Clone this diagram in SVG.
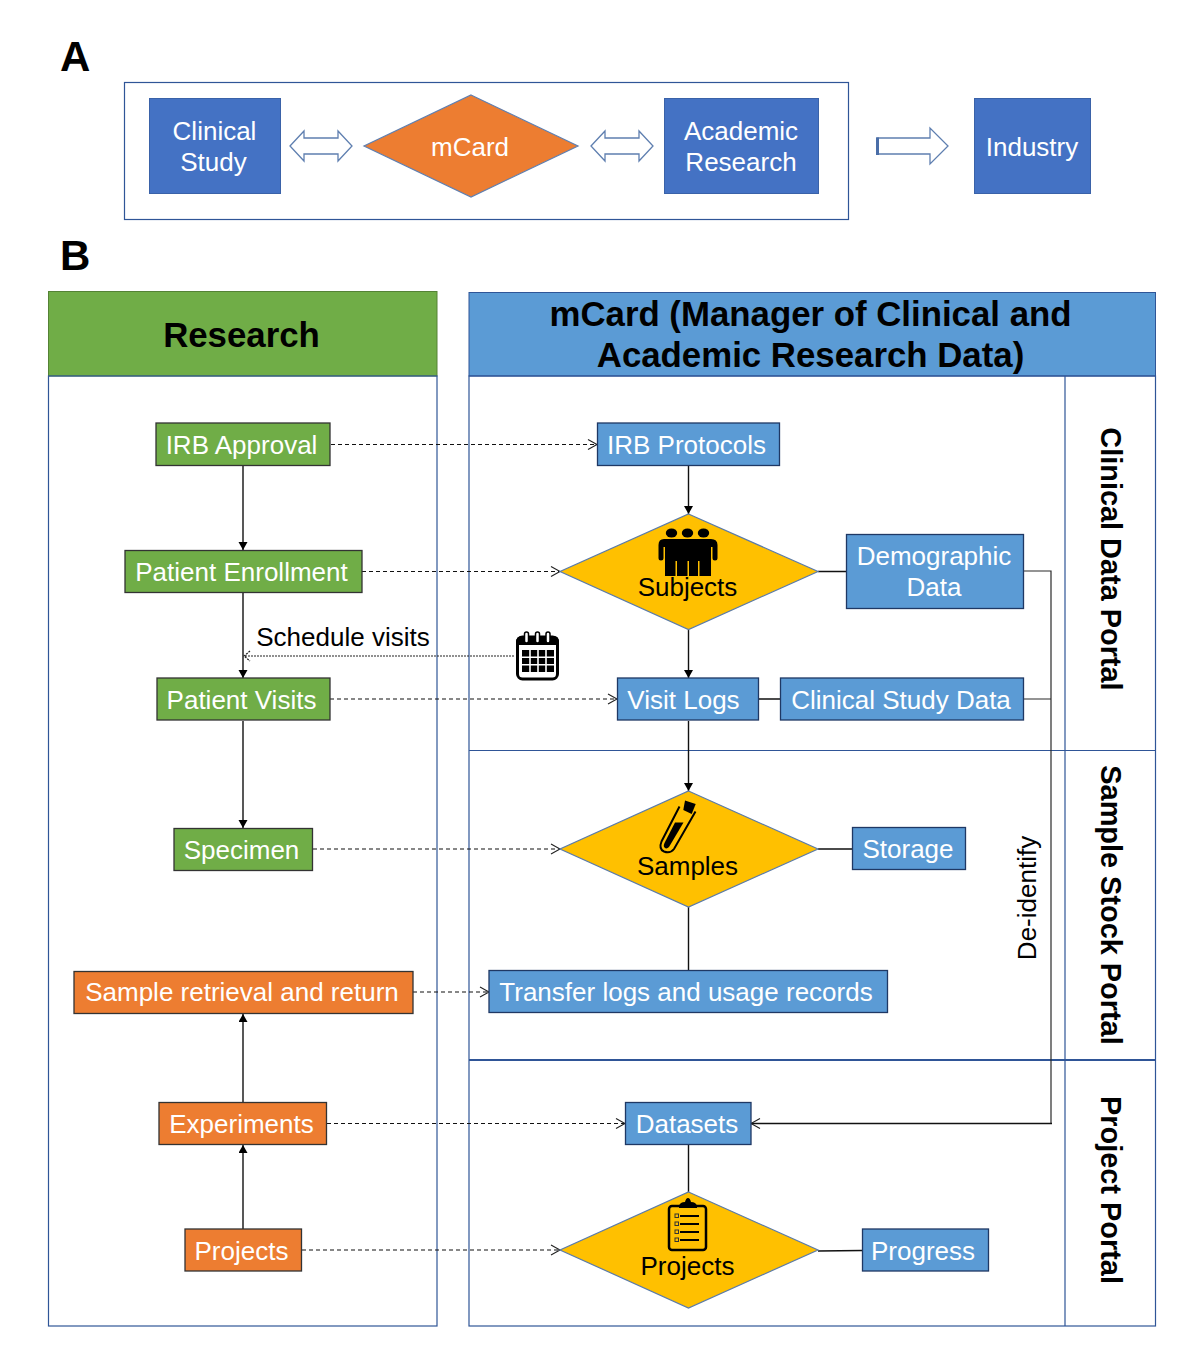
<svg xmlns="http://www.w3.org/2000/svg" width="1200" height="1357" viewBox="0 0 1200 1357">
<style>
text{font-family:"Liberation Sans",Arial,sans-serif;text-anchor:middle}
.w{fill:#fff;font-size:26px}
.k{fill:#000;font-size:26px}
.l{fill:#000;font-size:42px;font-weight:bold;text-anchor:start}
.h{fill:#000;font-size:34.800px;font-weight:bold}
.p{fill:#000;font-size:28.900px;font-weight:bold}
.frame{fill:none;stroke:#2f5597;stroke-width:1.2}
.g{fill:#70ad47;stroke:#333;stroke-width:1.3}
.o{fill:#ed7d31;stroke:#333;stroke-width:1.3}
.b{fill:#5b9bd5;stroke:#1f3864;stroke-width:1.3}
.d{fill:#4472c4;stroke:#3a62a8;stroke-width:1}
.y{fill:#ffc000;stroke:#5b7ba8;stroke-width:1.2}
.arr{fill:#fff;stroke:#5f7fb0;stroke-width:1.3}
.s{fill:none;stroke:#111;stroke-width:1.4}
.sa{fill:none;stroke:#111;stroke-width:1.4;marker-end:url(#tri)}
.da{fill:none;stroke:#111;stroke-width:1.2;stroke-dasharray:4 3;marker-end:url(#open)}
.ico{fill:#000}
</style>
<defs>
<marker id="tri" markerUnits="userSpaceOnUse" markerWidth="10" markerHeight="10" refX="8" refY="4.5" orient="auto"><path d="M0 0L8 4.5L0 9Z" fill="#000"/></marker>
<marker id="open" markerUnits="userSpaceOnUse" markerWidth="12" markerHeight="14" refX="10" refY="6" orient="auto"><path d="M1 1L10 6L1 11" fill="none" stroke="#222" stroke-width="1.1"/></marker>
</defs>

<text class="l" x="60" y="71">A</text>
<text class="l" x="60" y="270">B</text>

<g id="frames">
<rect class="frame" x="124.500" y="82.500" width="724" height="137"/>
<rect id="research-head" x="48.500" y="291.500" width="388.500" height="84.500" fill="#70ad47" stroke="#548235" stroke-width="1"/>
<rect class="frame" x="48.500" y="376" width="388.500" height="950"/>
<rect id="mcard-head" x="469" y="292.500" width="686.500" height="83.500" fill="#5b9bd5" stroke="#2f5597" stroke-width="1"/>
<rect class="frame" x="469" y="376" width="686.500" height="950"/>
<path class="frame" d="M1065 376V1326M469 750.500H1155.500"/>
<path d="M469 1060H1155.500" fill="none" stroke="#2f5597" stroke-width="2"/>
</g>

<g id="connectors">
<path class="sa" d="M243 466V550"/>
<path class="sa" d="M243 593V678"/>
<path class="sa" d="M243 721V828"/>
<path class="sa" d="M243 1102V1014"/>
<path class="sa" d="M243 1229V1145"/>
<path class="da" d="M331 444.500H597"/>
<path class="da" d="M362 571.500H560"/>
<path d="M514 656H244M250 651L244 656L250 661" fill="none" stroke="#222" stroke-width="1.200" stroke-dasharray="2 1"/>
<path class="da" d="M330 699H617"/>
<path class="da" d="M313 849H560"/>
<path class="da" d="M413 992H489"/>
<path class="da" d="M327 1123.500H625"/>
<path class="da" d="M302 1250H560"/>
<path class="sa" d="M688.500 466V514"/>
<path class="sa" d="M688.500 630V678"/>
<path class="sa" d="M688.500 721V791"/>
<path class="s" d="M688.500 907V970M688.500 1145V1192M818 571.500H846M759 699H780M818 849H852M818 1251L862 1250.500"/>
<path d="M1024 571H1051V1123.500M1024 699H1051" fill="none" stroke="#2a2a2a" stroke-width="1.200"/>
<path d="M1052 1123.500H751" fill="none" stroke="#111" stroke-width="1.4" marker-end="url(#open)"/>
</g>

<g id="clinical-study"><rect class="d" x="149.500" y="98.500" width="131" height="95"/><text class="w" x="214.500" y="140">Clinical</text><text class="w" x="213.500" y="171">Study</text></g>
<g id="mcard-a"><path d="M471 95L578 146L471 197L364 146Z" fill="#ed7d31" stroke="#5f7fb0" stroke-width="1.200"/><text class="w" x="470" y="156">mCard</text></g>
<g id="academic-research"><rect class="d" x="664.500" y="98.500" width="154" height="95"/><text class="w" x="741" y="140">Academic</text><text class="w" x="741" y="171">Research</text></g>
<g id="industry"><rect class="d" x="974.500" y="98.500" width="116" height="95"/><text class="w" x="1032" y="156">Industry</text></g>
<path id="arrow-1" class="arr" d="M290 146L304 131V138H338V131L352 146L338 161V154H304V161Z"/>
<path id="arrow-2" class="arr" d="M591 146L605 131V138H639V131L653 146L639 161V154H605V161Z"/>
<path id="arrow-3" class="arr" d="M877 138H930V128L948 146L930 164V154H877Z"/>
<path d="M877.500 137.500V155" stroke="#4a6ea8" stroke-width="3" fill="none"/>

<text class="h" x="241.500" y="347">Research</text>
<text class="h" x="810.500" y="326">mCard (Manager of Clinical and</text>
<text class="h" x="810.500" y="367">Academic Research Data)</text>
<text class="p" transform="translate(1101 559) rotate(90)">Clinical Data Portal</text>
<text class="p" transform="translate(1101 905) rotate(90)">Sample Stock Portal</text>
<text class="p" transform="translate(1101 1190) rotate(90)">Project Portal</text>
<text class="k" transform="translate(1036 898) rotate(-90)">De-identify</text>
<text class="k" x="343" y="646">Schedule visits</text>

<g id="irb-approval"><rect class="g" x="156" y="423" width="174" height="42.500"/><text class="w" x="241.500" y="454">IRB Approval</text></g>
<g id="patient-enrollment"><rect class="g" x="125" y="550.500" width="237" height="42"/><text class="w" x="241.500" y="581">Patient Enrollment</text></g>
<g id="patient-visits"><rect class="g" x="157" y="678" width="173" height="42"/><text class="w" x="241.500" y="709">Patient Visits</text></g>
<g id="specimen"><rect class="g" x="174" y="828.500" width="138.500" height="42"/><text class="w" x="241.500" y="859">Specimen</text></g>
<g id="sample-retrieval"><rect class="o" x="74" y="971.500" width="339" height="42"/><text class="w" x="242" y="1001">Sample retrieval and return</text></g>
<g id="experiments"><rect class="o" x="159" y="1102.500" width="167.500" height="42"/><text class="w" x="241.500" y="1133">Experiments</text></g>
<g id="projects-left"><rect class="o" x="185" y="1229" width="116.500" height="42"/><text class="w" x="241.500" y="1260">Projects</text></g>

<g id="irb-protocols"><rect class="b" x="597.500" y="423" width="182" height="42.500"/><text class="w" x="686.500" y="454">IRB Protocols</text></g>
<g id="subjects"><path class="y" d="M688.500 514L818 571.500L688.500 629.500L560 571.500Z"/>
<g class="ico"><ellipse cx="671.500" cy="533" rx="5.700" ry="4.500"/><ellipse cx="687.500" cy="533" rx="5.700" ry="4.500"/><ellipse cx="703.500" cy="533" rx="5.700" ry="4.500"/><path d="M664 539H711Q717.500 539 717.500 545V558Q717.500 560.500 715 560.500Q712.500 560.500 712.500 558V547H711V576H699.500V561H698V576H689V561H687.500V576H677V561H675.500V576H665V547H663.500V558Q663.500 560.500 661 560.500Q658.500 560.500 658.500 558V545Q658.500 539 664 539Z"/></g>
<text class="k" x="687.500" y="596">Subjects</text></g>
<g id="demographic-data"><rect class="b" x="846.500" y="534.500" width="177" height="74"/><text class="w" x="934" y="565">Demographic</text><text class="w" x="934" y="596">Data</text></g>
<g id="calendar"><rect x="517.500" y="637" width="40" height="42" rx="5" fill="#fff" stroke="#000" stroke-width="3"/><path class="ico" d="M516 645V642Q516 636 522 636H554Q559 636 559 642V645Z"/><g fill="#fff" stroke="#000" stroke-width="1.500"><rect x="524.500" y="632" width="4" height="11" rx="2"/><rect x="535.500" y="632" width="4" height="11" rx="2"/><rect x="546" y="632" width="4" height="11" rx="2"/></g><g class="ico"><path d="M522 650h32v22h-32z"/></g><path d="M522 657.300h32M522 664.700h32M530 650v22M538 650v22M546 650v22" stroke="#fff" stroke-width="1.600" fill="none"/></g>
<g id="visit-logs"><rect class="b" x="617.500" y="678" width="141" height="42"/><text class="w" x="683.500" y="709">Visit Logs</text></g>
<g id="clinical-study-data"><rect class="b" x="780.500" y="678" width="243" height="42"/><text class="w" x="901" y="709">Clinical Study Data</text></g>
<g id="samples"><path class="y" d="M688.500 791L818 849L688.500 907L560 849Z"/>
<path d="M679.500 806.500L661.500 841.500Q658.500 849 664 851.500Q670 854 674 849L695.500 811.500" fill="none" stroke="#000" stroke-width="2"/><path class="ico" d="M675 822.500H683.500L669 847Q666.500 849.500 664.500 847.500Q663 846 664.500 843Z"/><path class="ico" d="M685 800.500L695.700 804L691.700 814L683.300 810Z"/>
<text class="k" x="687.500" y="875">Samples</text></g>
<g id="storage"><rect class="b" x="852.500" y="827.500" width="113" height="42"/><text class="w" x="908" y="858">Storage</text></g>
<g id="transfer-logs"><rect class="b" x="489" y="970.500" width="398.500" height="42"/><text class="w" x="686" y="1001">Transfer logs and usage records</text></g>
<g id="datasets"><rect class="b" x="625.500" y="1102.500" width="125.500" height="42"/><text class="w" x="687" y="1133">Datasets</text></g>
<g id="projects-right"><path class="y" d="M688.500 1192L818 1250L688.500 1308L560 1250Z"/>
<rect x="669" y="1206" width="37" height="44" rx="3" fill="none" stroke="#000" stroke-width="2.500"/><path class="ico" d="M679 1206Q680 1202 685 1202Q686 1198 688 1198Q690 1198 691 1202Q696 1202 697 1206V1208H679Z"/>
<path d="M680 1216H699M680 1224H699M680 1232H699M680 1240H699" stroke="#000" stroke-width="1.800" fill="none"/>
<g fill="none" stroke="#333" stroke-width="1"><rect x="675" y="1214" width="3.500" height="3.500"/><rect x="675" y="1222" width="3.500" height="3.500"/><rect x="675" y="1230" width="3.500" height="3.500"/><rect x="675" y="1238" width="3.500" height="3.500"/></g>
<text class="k" x="687.500" y="1275">Projects</text></g>
<g id="progress"><rect class="b" x="862.500" y="1229" width="126" height="42"/><text class="w" x="923" y="1260">Progress</text></g>
</svg>
